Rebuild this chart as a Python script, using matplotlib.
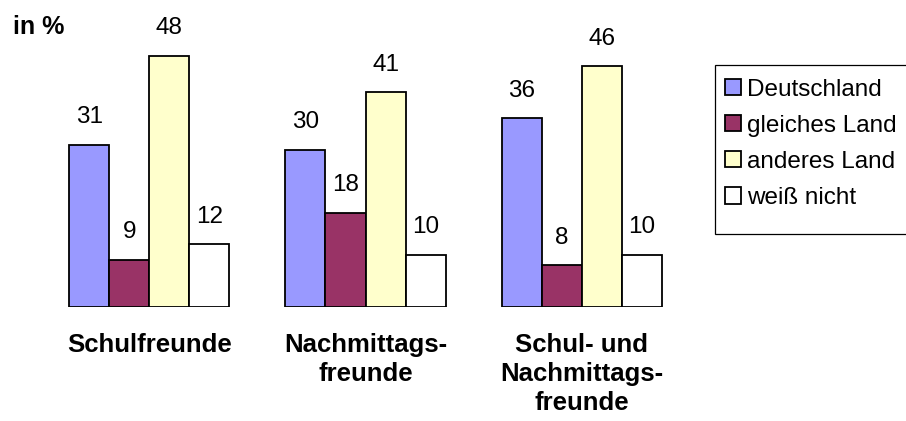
import matplotlib
matplotlib.use("Agg")
import matplotlib.pyplot as plt
from matplotlib.patches import Rectangle
import numpy as np

plt.rcParams['font.family'] = ['Liberation Sans', 'DejaVu Sans']

categories = ["Schulfreunde", "Nachmittags-\nfreunde", "Schul- und\nNachmittags-\nfreunde"]
series_names = ["Deutschland", "gleiches Land", "anderes Land", "weiß nicht"]
deutschland = [31, 30, 36]
gleiches_land = [9, 18, 8]
anderes_land = [48, 41, 46]
weiss_nicht = [12, 10, 10]
series_values = [deutschland, gleiches_land, anderes_land, weiss_nicht]
colors = ["#9999FF", "#993366", "#FFFFCC", "#FFFFFF"]

W, H = 906, 421
fig = plt.figure(figsize=(W / 100, H / 100), dpi=100)
ax_left, ax_right = 41, 690
ax_bottom, ax_top = 307, 19
ax = fig.add_axes([ax_left / W, 1 - ax_bottom / H, (ax_right - ax_left) / W, (ax_bottom - ax_top) / H])

x = np.arange(len(categories))
bw = 0.185
handles = []
for i, (name, vals, c) in enumerate(zip(series_names, series_values, colors)):
    pos = x + (i - 1.5) * bw
    b = ax.bar(pos, vals, width=bw, color=c, edgecolor="black", linewidth=1.3, label=name)
    handles.append(b)
    for px, v in zip(pos, vals):
        ax.annotate(str(v), (px, v), xytext=(0, 15.5), textcoords="offset points",
                    ha="center", va="baseline", fontsize=17.5)

ax.set_xlim(-0.5, 2.5)
ax.set_ylim(0, 55)
ax.axis("off")

for xi, lab in zip(x, categories):
    ax.annotate(lab, (xi, 0), xytext=(0, -19), textcoords="offset points",
                ha="center", va="top", fontsize=18.5, fontweight="bold", linespacing=1.25)

fig.text(13 / W, 1 - 27 / H, "in %", fontsize=18, fontweight="bold", ha="left", va="center")

# legend frame
fig.patches.append(Rectangle((715 / W, 1 - 234 / H), 200 / W, (234 - 65) / H,
                             transform=fig.transFigure, facecolor="white",
                             edgecolor="black", linewidth=0.9, zorder=0))
leg = fig.legend(handles=handles, labels=series_names, loc="upper left",
                 bbox_to_anchor=(715 / W, 1 - 69 / H), frameon=False,
                 fontsize=17.5, handlelength=0.65, handleheight=0.65, handletextpad=0.25,
                 labelspacing=0.58, borderpad=0.4, borderaxespad=0)

fig.savefig("out.png", dpi=100)
